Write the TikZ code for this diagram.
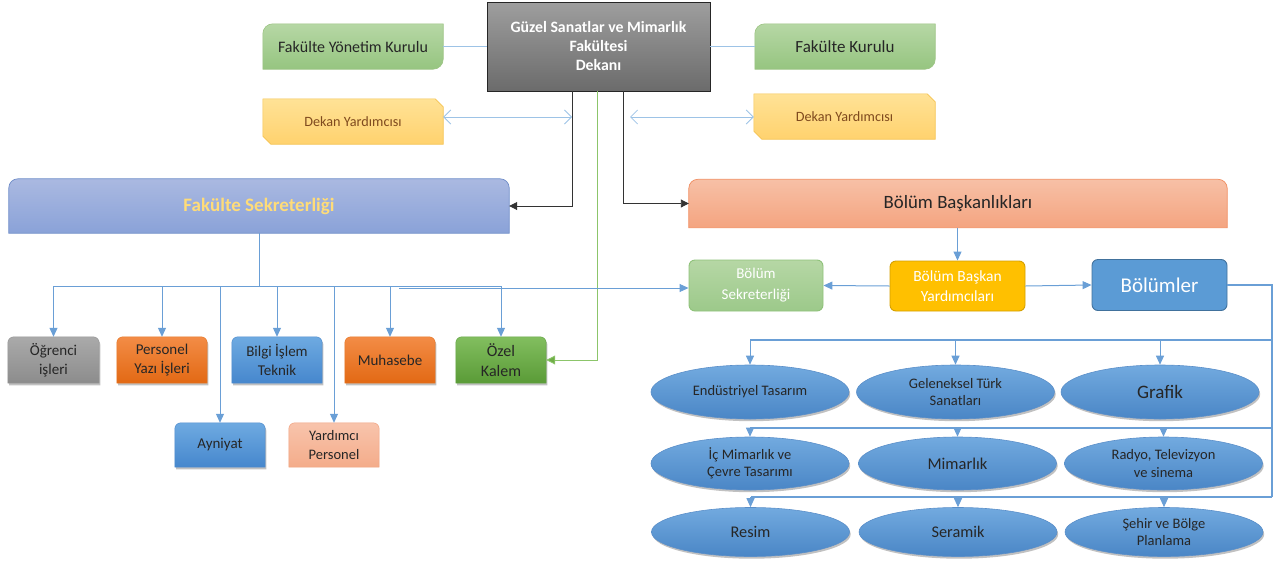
\documentclass[tikz,border=0pt]{standalone}
\usepackage{fontspec}
\setmainfont{Carlito}
\usetikzlibrary{arrows.meta,shapes.geometric,shadows,calc}
\pgfdeclarelayer{bg}\pgfsetlayers{bg,main}
\definecolor{lineblue}{HTML}{6A9FD6}
\definecolor{palelineblue}{HTML}{9DC3E6}
\definecolor{grnline}{HTML}{8CC56A}
\definecolor{darktxt}{HTML}{262626}
\definecolor{browntxt}{HTML}{7F4A1E}
\definecolor{fsyellow}{HTML}{FFDC78}
\definecolor{blue2top}{HTML}{72AADF}
\definecolor{blue2bot}{HTML}{4A86C6}
\definecolor{blue2bd}{HTML}{5B8FC9}
\definecolor{gtop}{RGB}{182,215,165}
\definecolor{gbot}{RGB}{150,197,128}
\definecolor{gbd}{RGB}{155,195,130}
\definecolor{ytop}{RGB}{255,226,150}
\definecolor{ybot}{RGB}{255,210,110}
\definecolor{ybd}{RGB}{245,195,80}
\definecolor{fstop}{RGB}{170,185,225}
\definecolor{fsbot}{RGB}{138,162,216}
\definecolor{fsbd}{RGB}{110,140,200}
\definecolor{bbtop}{RGB}{247,192,166}
\definecolor{bbbot}{RGB}{244,164,128}
\definecolor{bbbd}{RGB}{240,140,95}
\definecolor{grtop}{RGB}{170,170,170}
\definecolor{grbot}{RGB}{140,140,140}
\definecolor{grbd}{RGB}{150,150,150}
\definecolor{ortop}{RGB}{243,140,70}
\definecolor{orbot}{RGB}{226,105,20}
\definecolor{orbd}{RGB}{230,120,40}
\definecolor{bltop}{RGB}{110,170,225}
\definecolor{blbot}{RGB}{70,135,205}
\definecolor{blbd}{RGB}{80,140,205}
\definecolor{oztop}{RGB}{130,190,95}
\definecolor{ozbot}{RGB}{90,155,55}
\definecolor{ozbd}{RGB}{100,165,70}
\definecolor{yrtop}{RGB}{248,196,172}
\definecolor{yrbot}{RGB}{244,172,138}
\definecolor{yrbd}{RGB}{240,160,125}
\definecolor{bstop}{RGB}{182,215,165}
\definecolor{bsbot}{RGB}{156,201,138}
\definecolor{bsbd}{RGB}{143,194,122}
\definecolor{bbyfill}{RGB}{255,192,0}
\definecolor{bbybd}{RGB}{212,160,0}
\definecolor{bolfill}{RGB}{91,155,213}
\definecolor{bolbd}{RGB}{65,113,156}
\definecolor{ozarrow}{RGB}{112,173,71}
\newcommand\sz[1]{\fontsize{#1}{#1}\selectfont}
\newcommand\topround[3][6pt]{%
  \path[#3] (#2.south west) -- ([yshift=-#1]#2.north west) arc[start angle=180,end angle=90,radius=#1]
    -- ([xshift=-#1]#2.north east) arc[start angle=90,end angle=0,radius=#1] -- (#2.south east) -- cycle;}
\newcommand\diaground[3][10pt]{%
  \path[#3] (#2.south west) -- ([yshift=-#1]#2.north west) arc[start angle=180,end angle=90,radius=#1]
    -- (#2.north east) -- ([yshift=#1]#2.south east) arc[start angle=0,end angle=-90,radius=#1] -- cycle;}
\newcommand\diagsnip[3][8pt]{%
  \path[#3] (#2.north west) -- ([xshift=-#1]#2.north east) -- ([yshift=-#1]#2.north east)
    -- (#2.south east) -- ([xshift=#1]#2.south west) -- ([yshift=#1]#2.south west) -- cycle;}
\tikzset{
  lbl/.style={draw=none,inner sep=0pt,align=center},
  sh/.style={drop shadow={shadow xshift=1.2pt,shadow yshift=-2.2pt,opacity=0.35,fill=black!70}},
  conn/.style={draw=lineblue,line width=1pt},
  arr/.style={conn,-{Triangle[width=8pt,length=9pt]}},
  blk/.style={draw=black!80,line width=0.9pt,-{Triangle[width=8pt,length=8pt]}},
  grn/.style={draw=grnline,line width=0.9pt,-{Triangle[width=9pt,length=9pt,fill=ozarrow]}},
  dbl/.style={draw=palelineblue,line width=0.8pt,{Straight Barb[length=7pt,width=14pt]}-{Straight Barb[length=7pt,width=14pt]}},
  ell/.style={ellipse,inner sep=0pt,align=center,minimum width=198pt,
    top color=blue2top,bottom color=blue2bot,draw=blue2bd,line width=0.6pt,sh,text=darktxt,font=\fontsize{14.5}{17.5}\selectfont},
  rbox/.style={rounded corners=6pt,inner sep=0pt,align=center,line width=0.9pt,text=white},
}
\begin{document}
\begin{tikzpicture}[x=1pt,y=1pt]
\useasboundingbox (0,0) rectangle (1280,-563);
% ---------- top ----------
\node[rectangle,minimum width=223pt,minimum height=89pt,draw=black!85,line width=0.8pt,top color=black!38,bottom color=black!58,
  align=center,text=white,font=\bfseries\fontsize{15.8}{19}\selectfont] (dekan) at (598.5,-46.5)
  {Güzel Sanatlar ve Mimarlık\\Fakültesi\\Dekanı};
\node[lbl,minimum width=180pt,minimum height=45pt,text=darktxt,font=\sz{16}] (fyk) at (353,-46.5) {Fakülte Yönetim Kurulu};
\node[lbl,minimum width=180pt,minimum height=45pt,text=darktxt,font=\sz{17}] (fk) at (845,-46.5) {Fakülte Kurulu};
\node[lbl,minimum width=180pt,minimum height=45pt,text=browntxt,font=\sz{14.2}] (dyl) at (353,-121.5) {Dekan Yardımcısı};
\node[lbl,minimum width=181pt,minimum height=45pt,text=browntxt,font=\sz{14.2}] (dyr) at (844.5,-116.5) {Dekan Yardımcısı};
\node[lbl,minimum width=500pt,minimum height=54pt,text=fsyellow,font=\bfseries\sz{19}] (fs) at (259,-206) {Fakülte Sekreterliği};
\node[lbl,minimum width=538pt,minimum height=48pt,text=darktxt,font=\sz{18.8}] (bb) at (958,-203.5) {Bölüm Başkanlıkları};
% ---------- left boxes ----------
\node[lbl,minimum width=91pt,minimum height=46pt,text=darktxt,font=\fontsize{15}{19}\selectfont] (ogr) at (53.5,-360) {Öğrenci\\işleri};
\node[lbl,minimum width=90pt,minimum height=46pt,text=darktxt,font=\fontsize{15}{19}\selectfont] (per) at (162,-360) {Personel\\Yazı İşleri};
\node[lbl,minimum width=90pt,minimum height=46pt,text=darktxt,font=\fontsize{15}{19}\selectfont] (bil) at (277,-360) {Bilgi İşlem\\Teknik};
\node[lbl,minimum width=90pt,minimum height=46pt,text=darktxt,font=\sz{15}] (muh) at (390,-360) {Muhasebe};
\node[lbl,minimum width=90pt,minimum height=46pt,text=darktxt,font=\fontsize{16}{20}\selectfont] (oze) at (501,-360) {Özel\\Kalem};
\node[lbl,minimum width=90pt,minimum height=44pt,text=darktxt,font=\sz{15}] (ayn) at (220,-445) {Ayniyat};
\node[lbl,minimum width=90pt,minimum height=44pt,text=darktxt,font=\fontsize{14.5}{19}\selectfont] (yar) at (334,-445) {Yardımcı\\Personel};
% ---------- right boxes ----------
\node[rbox,minimum width=134pt,minimum height=51pt,top color=bstop,bottom color=bsbot,draw=bsbd,
  font=\fontsize{15}{21}\selectfont] (bs) at (756,-285.5) {Bölüm\\Sekreterliği};
\node[rbox,minimum width=135pt,minimum height=50pt,fill=bbyfill,draw=bbybd,
  font=\fontsize{15.5}{19.5}\selectfont] (bby) at (957.5,-286) {Bölüm Başkan\\Yardımcıları};
\node[rbox,minimum width=135pt,minimum height=51pt,fill=bolfill,draw=bolbd,
  font=\sz{21}] (bol) at (1159.5,-285) {Bölümler};
% ---------- ellipses ----------
\node[ell,minimum height=54pt] (e11) at (750,-392) {Endüstriyel Tasarım};
\node[ell,minimum height=54pt] (e12) at (955.5,-392) {Geleneksel Türk\\Sanatları};
\node[ell,minimum height=54pt,font=\sz{19}] (e13) at (1160,-392) {Grafik};
\node[ell,minimum height=53pt] (e21) at (750,-463.5) {İç Mimarlık ve\\Çevre Tasarımı};
\node[ell,minimum height=53pt,font=\sz{16.5}] (e22) at (957.5,-463.5) {Mimarlık};
\node[ell,minimum height=53pt] (e23) at (1163.5,-463.5) {Radyo, Televizyon\\ve sinema};
\node[ell,minimum height=49pt,font=\sz{16.3}] (e31) at (750.5,-532) {Resim};
\node[ell,minimum height=49pt,font=\sz{16.3}] (e32) at (958,-532) {Seramik};
\node[ell,minimum height=49pt] (e33) at (1164,-532) {Şehir ve Bölge\\Planlama};
% ---------- background shapes ----------
\begin{pgfonlayer}{bg}
\diaground{fyk}{top color=gtop,bottom color=gbot,draw=gbd,line width=0.6pt}
\diaground{fk}{top color=gtop,bottom color=gbot,draw=gbd,line width=0.6pt}
\diagsnip{dyl}{top color=ytop,bottom color=ybot,draw=ybd,line width=0.6pt}
\diagsnip{dyr}{top color=ytop,bottom color=ybot,draw=ybd,line width=0.6pt}
\topround[9pt]{fs}{top color=fstop,bottom color=fsbot,draw=fsbd,line width=0.7pt}
\topround[9pt]{bb}{top color=bbtop,bottom color=bbbot,draw=bbbd,line width=0.7pt}
\topround{ogr}{sh,top color=grtop,bottom color=grbot,draw=grbd,line width=0.5pt}
\topround{per}{sh,top color=ortop,bottom color=orbot,draw=orbd,line width=0.5pt}
\topround{muh}{sh,top color=ortop,bottom color=orbot,draw=orbd,line width=0.5pt}
\topround{bil}{sh,top color=bltop,bottom color=blbot,draw=blbd,line width=0.5pt}
\topround{ayn}{sh,top color=bltop,bottom color=blbot,draw=blbd,line width=0.5pt}
\topround{oze}{sh,top color=oztop,bottom color=ozbot,draw=ozbd,line width=0.5pt}
\topround{yar}{top color=yrtop,bottom color=yrbot,draw=yrbd,line width=0.5pt}
\end{pgfonlayer}
% ---------- connectors ----------
\draw[draw=palelineblue,line width=0.9pt] (fyk) -- (dekan);
\draw[draw=palelineblue,line width=0.9pt] (dekan) -- (fk);
\coordinate (jl) at (572,-117);
\coordinate (jr) at (630,-117);
\draw[dbl] (dyl.east |- jl) -- (jl);
\draw[dbl] (jr) -- (jr -| dyr.west);
\draw[blk] ([xshift=-26.5pt]dekan.south) |- (fs.east);
\draw[blk] ([xshift=24.5pt]dekan.south) |- (bb.west);
\draw[grn] ([xshift=-1.5pt]dekan.south) |- (oze.east);
\coordinate (fsb) at (259,-286);
\draw[conn] (fs.south) -- (fsb);
\draw[conn] (ogr.north |- fsb) -- (oze.north |- fsb);
\foreach \n in {ogr,per,bil,muh,oze,ayn,yar} \draw[arr] (\n.north |- fsb) -- (\n.north);
\coordinate (fsb2) at (399,-288);
\draw[arr] (fsb2) -- (fsb2 -| bs.west);
\draw[arr] (bb.south -| bby.north) -- (bby.north);
\draw[arr] (bby.west) -- (bs.east);
\draw[arr] (bby.east) -- (bol.west);
\coordinate (trb) at (1272,-497);
\draw[conn,line width=2.4pt] (bol.east) -- (bol.east -| trb) -- (trb);
\coordinate (b1) at (1272,-340);
\coordinate (b2) at (1272,-428);
\coordinate (b3) at (1272,-497);
\draw[conn,line width=1.3pt] (b1) -- (b1 -| e11.north);
\draw[conn,line width=1.3pt] (b2) -- (b2 -| e21.north);
\draw[conn,line width=1.3pt] (b3) -- (b3 -| e31.north);
\foreach \e/\b in {e11/b1,e12/b1,e13/b1,e21/b2,e22/b2,e23/b2,e31/b3,e32/b3,e33/b3}
  \draw[arr] (\b -| \e.north) -- (\e.north);
\end{tikzpicture}
\end{document}
